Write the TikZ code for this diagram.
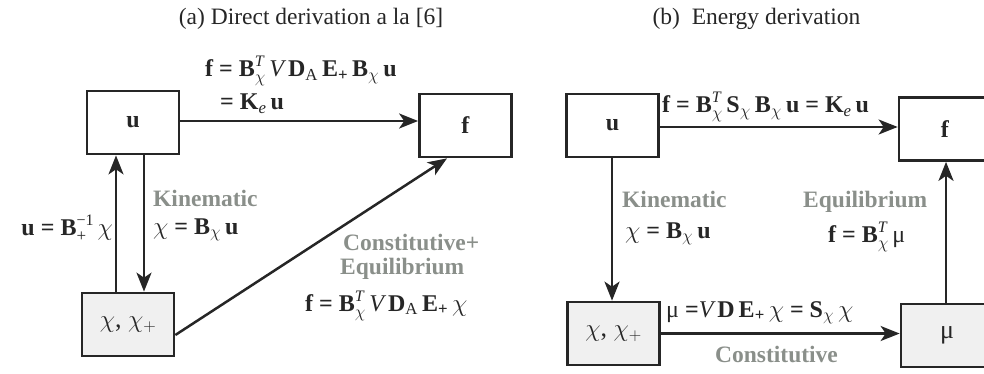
\documentclass[tikz,border=0pt]{standalone}
\usepackage{fontspec}
\usepackage{amsmath}
\setmainfont{Liberation Serif}
\usetikzlibrary{arrows.meta}
\definecolor{ink}{HTML}{262626}
\definecolor{lab}{HTML}{8A8F8A}
\definecolor{boxfill}{HTML}{F0F0F0}
\newcommand{\TX}{\rlap{\raisebox{10pt}{\fontsize{16}{16}\selectfont\mdseries\itshape T}}\raisebox{-6pt}{\fontsize{17}{17}\selectfont$\chi$}}
\newcommand{\As}{\text{\mdseries A}}
\newcommand{\Ps}{\text{+}}
\tikzset{
  bx/.style={draw=ink, line width=2.7pt, minimum width=92pt, minimum height=63pt, inner sep=0pt, text=ink, font=\fontsize{24}{28}\selectfont},
  gbx/.style={bx, fill=boxfill, font=\fontsize{26}{30}\selectfont},
  arr/.style={draw=ink, line width=2.5pt, -{Stealth[length=19pt,width=15pt,inset=5pt]}},
  lbl/.style={inner sep=0pt, font=\fontsize{24}{28}\selectfont\bfseries, text=ink},
  glbl/.style={lbl, font=\fontsize{23.5}{28}\selectfont\bfseries, text=lab},
  ttl/.style={inner sep=0pt, font=\fontsize{23.5}{28}\selectfont, text=ink},
}
\begin{document}
\begin{tikzpicture}[x=1pt,y=-1pt]
\useasboundingbox (0,0) rectangle (984,374);
\clip (0,0) rectangle (984,374);
% titles
\node[ttl, anchor=base] (ta) at (311,25) {(a) Direct derivation a la [6]};
\node[ttl, anchor=base] (tb) at (756.5,25) {(b)\ \ Energy derivation};
% boxes (a)
\node[bx] (uA) at (133,122.5) {\textbf{u}};
\node[bx] (fA) at (465.5,125.5) {\textbf{f}};
\node[gbx] (cA) at (128,324.5) {$\chi$, $\chi_{+}$};
% boxes (b)
\node[bx] (uB) at (612.5,125.5) {\textbf{u}};
\node[bx] (fB) at (945,129) {\textbf{f}};
\node[gbx] (cB) at (613.5,333.5) {$\chi$, $\chi_{+}$};
\node[gbx] (mB) at (947,335.5) {μ};
% connectors (a)
\draw[arr] ([yshift=1.5pt]uA.east) -- ([yshift=1.5pt]uA.east -| fA.west);
\draw[arr] ([xshift=-12pt]cA.north) -- ([xshift=-12pt]cA.north |- uA.south);
\draw[arr] ([xshift=16pt]cA.north |- uA.south) -- ([xshift=16pt]cA.north);
\draw[arr] ([yshift=-10.5pt]cA.east) -- ([xshift=-18.5pt]fA.south);
% connectors (b)
\draw[arr] ([yshift=-1.5pt]uB.east) -- ([yshift=-1.5pt]uB.east -| fB.west);
\draw[arr] ([xshift=-0.5pt]uB.south) -- ([xshift=-0.5pt]uB.south |- cB.north);
\draw[arr] ([xshift=-1pt]mB.north) -- ([xshift=-1pt]mB.north |- fB.south);
\draw[arr] (cB.east) -- (cB.east -| mB.west);
% labels (a)
\node[lbl, anchor=base west] (l1) at (205,77) {f = B\TX\,{\mdseries\itshape V}\,D$_{\As}$\,E$_{\Ps}$\,B$_{\chi}$\,u};
\node[lbl, anchor=base west] (l2) at (220,110) {= K$_{\text{\mdseries\itshape e}}$\,u};
\node[lbl, anchor=base east] (l3) at (113,235) {u = B\rlap{\raisebox{-6pt}{\fontsize{17}{17}\selectfont\mdseries +}}\raisebox{10pt}{\fontsize{16}{16}\selectfont\mdseries −1}\kern4pt$\chi$};
\node[glbl, anchor=base west] (l4) at (153,206) {Kinematic};
\node[lbl, anchor=base west] (l5) at (153,234) {$\chi$ = B$_{\chi}$\,u};
\node[glbl, anchor=base west] (l6) at (343,250) {Constitutive+};
\node[glbl, anchor=base west] (l7) at (340,274) {Equilibrium};
\node[lbl, anchor=base west] (l8) at (305,311) {f = B\TX\,{\mdseries\itshape V}\,D$_{\As}$\,E$_{\Ps}$\,$\chi$};
% labels (b)
\node[lbl, anchor=base west] (m1) at (662,113) {f = B\TX\,S$_{\chi}$\,B$_{\chi}$\,u = K$_{\text{\mdseries\itshape e}}$\,u};
\node[glbl, anchor=base west] (m2) at (622,207) {Kinematic};
\node[lbl, anchor=base west] (m3) at (625,238) {$\chi$ = B$_{\chi}$\,u};
\node[glbl, anchor=base west] (m4) at (803,207) {Equilibrium};
\node[lbl, anchor=base west] (m5) at (828,242) {f = B\TX\,{\mdseries μ}};
\node[lbl, anchor=base west] (m6) at (666,317) {{\mdseries μ} ={\mdseries\itshape V}\,D\,E$_{\Ps}$\,$\chi$ = S$_{\chi}$\,$\chi$};
\node[glbl, anchor=base west] (m7) at (715,362) {Constitutive};
\end{tikzpicture}
\end{document}
